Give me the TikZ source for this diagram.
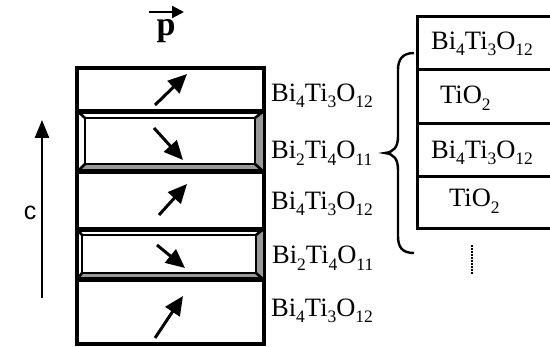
\documentclass[tikz,border=0pt]{standalone}
\usepackage{fontspec}
\setmainfont{Liberation Serif}
\newfontfamily\arialf{Liberation Sans}
\usetikzlibrary{arrows.meta}
\newcommand{\subs}[1]{\raisebox{-6.5pt}{\fontsize{17.5}{18}\selectfont #1}}
\newcommand{\BTa}{Bi\subs{4}Ti\subs{3}O\subs{12}}
\newcommand{\BTb}{Bi\subs{2}Ti\subs{4}O\subs{11}}
\newcommand{\TiO}{TiO\subs{2}}
\begin{document}
\begin{tikzpicture}[x=1pt,y=-1pt,
  layerbox/.style={draw, line width=2.8pt, minimum width=186pt, inner sep=0pt, anchor=north west},
  lbl/.style={anchor=west, inner sep=0pt, font=\fontsize{26.5}{28}\selectfont},
  rowbox/.style={draw, line width=2.8pt, minimum width=150pt, inner sep=0pt, anchor=north west},
  pol/.style={line width=3pt, -{Triangle[length=19pt,width=17pt]}},
  bev/.style={line width=2.6pt},
  bevfill/.style={fill=black!40, draw=none}
]
\useasboundingbox (0,0) rectangle (550,347);
\clip (0,0) rectangle (550,347);

% left stack layers
\node[layerbox, minimum height=43pt] (L1) at (76,67) {};
\node[layerbox, minimum height=60pt] (L2) at (76,110) {};
\node[layerbox, minimum height=58pt] (L3) at (76,170) {};
\node[layerbox, minimum height=50pt] (L4) at (76,228) {};
\node[layerbox, minimum height=64pt] (L5) at (76,278) {};

% bevel of L2
\coordinate (a2) at (85,118); \coordinate (b2) at (255,118);
\coordinate (c2) at (255,164); \coordinate (d2) at (85,164);
\fill[bevfill] (L2.north east) -- (L2.south east) -- (c2) -- (b2) -- cycle;
\fill[bevfill] (L2.south west) -- (L2.south east) -- (c2) -- (d2) -- cycle;
\draw[bev] (a2) -- (b2) -- (c2) -- (d2) -- cycle;
\draw[bev] (L2.north west) -- (a2) (L2.north east) -- (b2) (L2.south east) -- (c2) (L2.south west) -- (d2);
% bevel of L4
\coordinate (a4) at (82,235); \coordinate (b4) at (256,235);
\coordinate (c4) at (256,273); \coordinate (d4) at (82,273);
\fill[bevfill] (L4.north east) -- (L4.south east) -- (c4) -- (b4) -- cycle;
\fill[bevfill] (L4.south west) -- (L4.south east) -- (c4) -- (d4) -- cycle;
\draw[bev] (a4) -- (b4) -- (c4) -- (d4) -- cycle;
\draw[bev] (L4.north west) -- (a4) (L4.north east) -- (b4) (L4.south east) -- (c4) (L4.south west) -- (d4);
% redraw outer boxes on top
\foreach \n in {L1,L2,L3,L4,L5} \draw[line width=2.8pt] (\n.north west) rectangle (\n.south east);

% polarisation arrows
\coordinate (p1s) at (155,105); \coordinate (p1e) at (187,74);
\coordinate (p2s) at (154,128); \coordinate (p2e) at (183,160);
\coordinate (p3s) at (159,215); \coordinate (p3e) at (187,184);
\coordinate (p4s) at (157,245); \coordinate (p4e) at (185,268);
\coordinate (p5s) at (155,338); \coordinate (p5e) at (183,296);
\draw[pol] (p1s) -- (p1e);
\draw[pol] (p2s) -- (p2e);
\draw[pol] (p3s) -- (p3e);
\draw[pol] (p4s) -- (p4e);
\draw[pol] (p5s) -- (p5e);

% p vector
\node[inner sep=0pt, font=\fontsize{34}{36}\selectfont\bfseries] (p) at (166,31) {p};
\coordinate (pa) at (149,12); \coordinate (pb) at (184,12);
\draw[line width=2.4pt, -{Triangle[length=12pt,width=12pt]}] (pa) -- (pb);

% c axis
\coordinate (cb) at (42,298); \coordinate (ct) at (42,120);
\draw[line width=2.6pt, -{Triangle[length=18pt,width=14pt]}] (cb) -- (ct);
\node[inner sep=0pt, font=\arialf\fontsize{25}{26}\selectfont] (c) at (30,213) {c};

% labels of left stack
\node[lbl] (t1) at (271,96) {\BTa};
\node[lbl] (t2) at (271,153) {\BTb};
\node[lbl] (t3) at (271,204) {\BTa};
\node[lbl] (t4) at (272,258) {\BTb};
\node[lbl] (t5) at (271,311) {\BTa};

% right stack
\node[rowbox, minimum height=53pt] (R1) at (416,15) {};
\node[rowbox, minimum height=54pt] (R2) at (416,68) {};
\node[rowbox, minimum height=53pt] (R3) at (416,122) {};
\node[rowbox, minimum height=52pt] (R4) at (416,175) {};
\node[lbl] (r1) at (431,44) {\BTa};
\node[lbl] (r2) at (440,98) {\TiO};
\node[lbl] (r3) at (431,153) {\BTa};
\node[lbl] (r4) at (449,201) {\TiO};

% dots
\coordinate (da) at (472,245); \coordinate (db) at (472,274);
\draw[line width=2.4pt, dash pattern=on 1.6pt off 1.4pt] (da) -- (db);

% brace
\coordinate (bt) at (414,53); \coordinate (bb) at (414,253); \coordinate (bm) at (385,153);
\draw[line width=2.4pt] (bt) .. controls (402,53) and (398,60) .. (398,70) -- (398,136)
  .. controls (398,147) and (394,152) .. (bm)
  .. controls (394,154) and (398,159) .. (398,170) -- (398,236)
  .. controls (398,247) and (402,253) .. (bb);
\end{tikzpicture}
\end{document}
